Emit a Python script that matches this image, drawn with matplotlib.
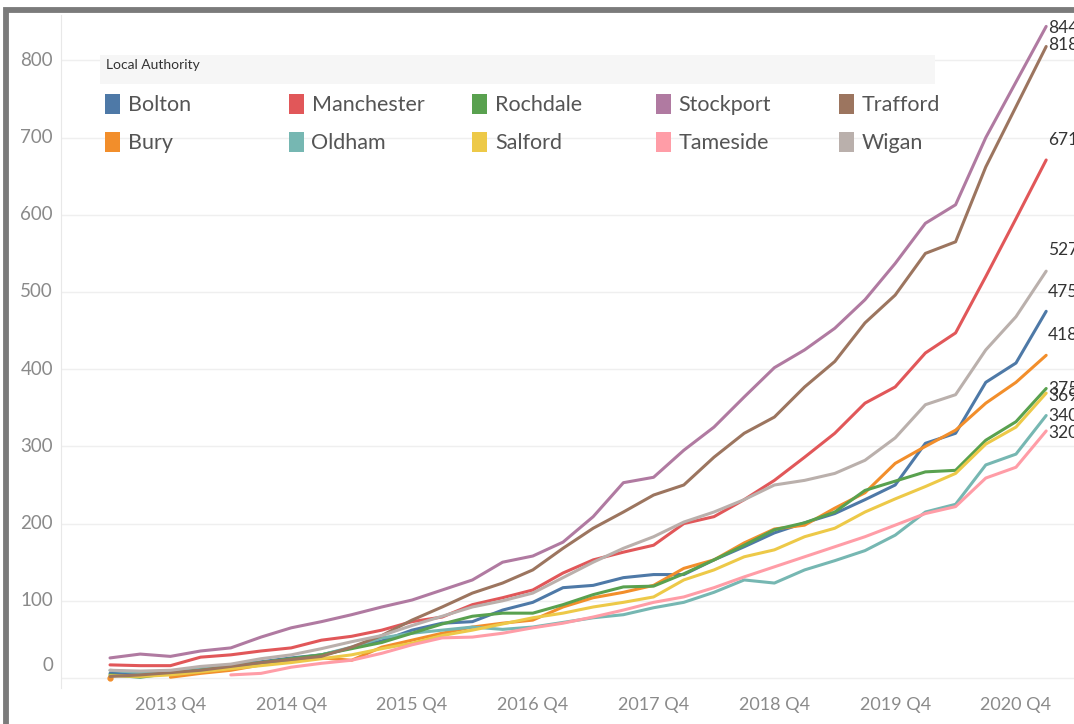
import numpy as np
import matplotlib
matplotlib.use("Agg")
import matplotlib.pyplot as plt
from matplotlib.patches import Rectangle

plt.rcParams["font.family"] = ["Lato", "DejaVu Sans"]

# quarterly counts, 2013 Q2 .. 2021 Q1
nan = np.nan
tick_labels = ["2013 Q4", "2014 Q4", "2015 Q4", "2016 Q4",
               "2017 Q4", "2018 Q4", "2019 Q4", "2020 Q4"]
tick_index = [2, 6, 10, 14, 18, 22, 26, 30]

bolton = [6, 5, 8, 13, 17, 21, 26, 30, 39, 48, 62, 71, 73, 88, 98, 117, 120, 130,
          134, 134, 153, 170, 188, 201, 213, 231, 250, 304, 317, 383, 408, 475]
bury = [0, nan, 1, 6, 10, 17, 23, 26, 23, 40, 49, 58, 66, 71, 75, 92, 104, 111,
        120, 142, 153, 175, 193, 198, 220, 240, 278, 300, 321, 356, 383, 418]
manchester = [17, 16, 16, 27, 30, 35, 39, 49, 54, 62, 73, 79, 95, 104, 114, 136, 153, 163,
              172, 200, 209, 231, 256, 286, 317, 356, 377, 421, 447, 520, 595, 671]
oldham = [10, 7, 8, 12, 16, 20, 24, 30, 40, 52, 58, 62, 66, 63, 66, 72, 78, 82,
          91, 98, 111, 127, 123, 140, 152, 165, 185, 215, 225, 276, 290, 340]
rochdale = [4, 1, 6, 10, 15, 20, 25, 30, 38, 46, 58, 70, 80, 84, 84, 95, 108, 118,
            119, 135, 153, 172, 192, 201, 215, 243, 255, 267, 269, 308, 332, 375]
salford = [3, 2, 4, 8, 12, 16, 20, 25, 30, 38, 45, 55, 62, 70, 78, 84, 92, 98,
           105, 127, 140, 157, 166, 183, 194, 215, 232, 248, 265, 303, 325, 369]
stockport = [26, 31, 28, 35, 39, 53, 65, 73, 82, 92, 101, 114, 127, 150, 158, 176, 209, 253,
             260, 295, 325, 364, 402, 425, 453, 490, 537, 589, 613, 700, 772, 844]
tameside = [nan, nan, nan, nan, 4, 6, 14, 19, 23, 32, 43, 52, 53, 58, 65, 71, 79, 88,
            98, 105, 117, 131, 144, 157, 170, 183, 198, 213, 222, 259, 273, 320]
trafford = [2, 4, 7, 10, 15, 20, 24, 28, 40, 55, 75, 92, 110, 123, 140, 168, 194, 215,
            237, 250, 286, 317, 338, 377, 410, 460, 496, 550, 565, 662, 740, 818]
wigan = [10, 9, 10, 15, 18, 25, 30, 38, 47, 55, 68, 80, 92, 100, 110, 130, 150, 168,
         183, 202, 215, 231, 250, 256, 265, 282, 311, 354, 367, 425, 468, 527]

names = ["Bolton", "Bury", "Manchester", "Oldham", "Rochdale",
         "Salford", "Stockport", "Tameside", "Trafford", "Wigan"]
series = [bolton, bury, manchester, oldham, rochdale,
          salford, stockport, tameside, trafford, wigan]
colors = ["#4E79A7", "#F28E2B", "#E15759", "#76B7B2", "#59A14F",
          "#EDC948", "#B07AA1", "#FF9DA7", "#9C755F", "#BAB0AC"]
# vertical nudge (pixels) of the end labels
label_dy = [19, 20, 20, 0, -1, -3, -2, -2, 1, 21]

W, H = 1074, 724
fig = plt.figure(figsize=(W / 100, H / 100), dpi=100)
fig.patch.set_facecolor("white")


def fx(px):
    return px / W


def fy(py):
    return 1 - py / H


ax = fig.add_axes([fx(61), fy(688), fx(1080) - fx(61), fy(15) - fy(688)])
ax.set_xlim(-1.623, 32.12)
ax.set_ylim(-12.95, 858.8)

for vals, c in zip(series, colors):
    x = np.arange(len(vals))
    ax.plot(x, vals, color=c, lw=2.2, solid_joinstyle="round", solid_capstyle="round")
    # isolated points (neighbours missing)
    v = np.array(vals, dtype=float)
    for i in range(len(v)):
        left = v[i - 1] if i > 0 else nan
        right = v[i + 1] if i < len(v) - 1 else nan
        if not np.isnan(v[i]) and np.isnan(left) and np.isnan(right):
            ax.plot(i, v[i], "o", color=c, ms=3.5)

for vals, c, dy in zip(series, colors, label_dy):
    n = len(vals) - 1
    ax.annotate(str(vals[-1]), xy=(n, vals[-1]), xytext=(2, dy),
                textcoords="offset pixels", ha="left", va="center",
                fontsize=12.5, color="#333333", annotation_clip=False)

# axes styling
for s in ["top", "right", "bottom"]:
    ax.spines[s].set_visible(False)
ax.spines["left"].set_color("#e8e8e8")
ax.set_xticks([])
ax.set_yticks([])
for v in range(0, 801, 100):
    ax.axhline(v, color="#efefef", lw=1.0, zorder=0)
    ax.annotate(str(v), xy=(0, v), xycoords=("axes fraction", "data"),
                xytext=(-8, 13 if v == 0 else 0), textcoords="offset pixels",
                ha="right", va="center", fontsize=13.5, color="#8a8a8a")
for i, lab in zip(tick_index, tick_labels):
    ax.annotate(lab, xy=(i, 0), xycoords=("data", "axes fraction"),
                xytext=(0, -17), textcoords="offset pixels",
                ha="center", va="center", fontsize=13, color="#8a8a8a")

# legend (Tableau style)
fig.patches.append(Rectangle((fx(100), fy(84)), fx(935) - fx(100), fy(55) - fy(84),
                             transform=fig.transFigure, facecolor="#f6f6f6",
                             edgecolor="none", zorder=2))
fig.text(fx(106), fy(65), "Local Authority", fontsize=10, color="#333333",
         ha="left", va="center", zorder=3)
order = [0, 2, 4, 6, 8, 1, 3, 5, 7, 9]
for k, idx in enumerate(order):
    col, row = k % 5, k // 5
    x0 = 105 + 183.5 * col
    yc = 104 + 38 * row
    fig.patches.append(Rectangle((fx(x0), fy(yc + 10)), fx(15), fy(0) - fy(20),
                                 transform=fig.transFigure, facecolor=colors[idx],
                                 edgecolor="none", zorder=3))
    fig.text(fx(x0 + 23), fy(yc + 1), names[idx], fontsize=15.5, color="#555555",
             ha="left", va="center", zorder=3)

# outer frame
fig.patches.append(Rectangle((fx(5.5), -0.2), 1.3, fy(10) + 0.2,
                             transform=fig.transFigure, facecolor="none",
                             edgecolor="#7b7b7b", lw=4.2, zorder=5))

fig.savefig("out.png", dpi=100, facecolor="white")
